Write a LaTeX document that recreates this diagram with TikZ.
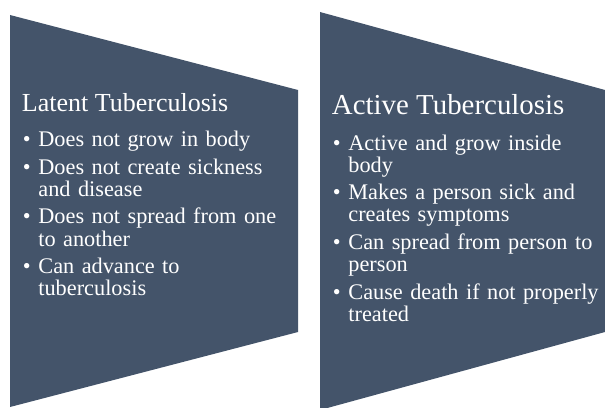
\documentclass[tikz,border=0pt]{standalone}
\usepackage{fontspec}
\setmainfont{Liberation Serif}
\usetikzlibrary{positioning}
\definecolor{slate}{HTML}{44546A}
\newcommand\tbitem[1]{\hangindent=16.5bp\hangafter=1\noindent\makebox[16.5bp][l]{\hspace{1bp}\textbullet}#1\par}

\begin{document}
\begin{tikzpicture}[x=1bp,y=1bp,
  panel/.style={fill=slate},
  heading/.style={text=white,inner sep=0pt,anchor=base west},
  points/.style={text=white,inner sep=0pt,anchor=base west,text width=272bp,
    font=\fontsize{22.3bp}{22.2bp}\selectfont}]
\useasboundingbox (0,0) rectangle (605,407);
\clip (0,0) rectangle (605,407);
% two panels
\fill[panel] (10,392) -- (298,317) -- (298,75) -- (10,0) -- cycle;
\fill[panel] (320,395) -- (605,317) -- (605,75) -- (320,-3) -- cycle;
% left panel
\node[heading,font=\fontsize{26bp}{26bp}\selectfont] (latent) at (21.7,295.3) {Latent Tuberculosis};
\node[points] (latentpts) at ([yshift=-35bp]latent.base west) {\setlength{\parskip}{5.3bp}%
\tbitem{Does not grow in body}%
\tbitem{Does not create sickness\newline and disease}%
\tbitem{Does not spread from one\newline to another}%
\tbitem{Can advance to\newline tuberculosis}};
% right panel
\node[heading,font=\fontsize{28.9bp}{28.9bp}\selectfont] (active) at (331.7,292.7) {Active Tuberculosis};
\node[points] (activepts) at ([yshift=-35.7bp]active.base west) {\setlength{\parskip}{5.3bp}%
\tbitem{Active and grow inside\newline body}%
\tbitem{Makes a person sick and\newline creates symptoms}%
\tbitem{Can spread from person to\newline person}%
\tbitem{Cause death if not properly\newline treated}};
\end{tikzpicture}
\end{document}
